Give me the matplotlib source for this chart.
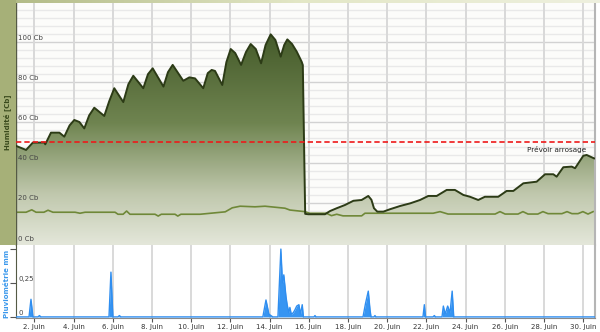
import numpy as np
import matplotlib
matplotlib.use("Agg")
import matplotlib.pyplot as plt
from matplotlib.colors import LinearSegmentedColormap
from matplotlib.transforms import blended_transform_factory
from matplotlib.patches import Rectangle

# ---------------- data (day of June, value) ----------------
hum_t = [1.07, 1.58, 1.92, 2.51, 2.56, 2.85, 3.28, 3.53, 3.80, 4.04, 4.30, 4.55, 4.80, 5.06,
         5.57, 5.82, 6.08, 6.54, 6.80, 7.05, 7.56, 7.80, 8.04, 8.59, 8.82, 9.06, 9.60, 9.91,
         10.20, 10.62, 10.85, 11.05, 11.22, 11.59, 11.80, 12.02, 12.25, 12.55, 12.80, 13.04,
         13.30, 13.57, 13.80, 14.06, 14.30, 14.57, 14.75, 14.91, 15.15, 15.39, 15.64, 15.70,
         15.82, 15.98, 16.83, 17.09, 17.43, 17.85, 18.28, 18.70, 19.04, 19.20, 19.33, 19.50,
         19.81, 20.15, 20.66, 21.17, 21.68, 22.10, 22.53, 23.04, 23.46, 23.89, 24.23, 24.65,
         24.99, 25.67, 26.10, 26.44, 26.95, 27.63, 28.06, 28.48, 28.65, 28.99, 29.42, 29.59,
         30.01, 30.18, 30.56]
hum_v = [48.3, 46.3, 49.9, 50.0, 49.1, 54.9, 54.9, 52.9, 58.5, 61.2, 60.2, 57.0, 63.5, 67.3,
         63.2, 70.5, 77.0, 70.1, 79.0, 83.2, 77.0, 84.0, 86.9, 77.8, 85.0, 88.6, 80.7, 82.4,
         81.9, 77.0, 84.5, 86.1, 85.6, 78.6, 90.0, 96.5, 94.5, 88.6, 95.0, 99.0,
         96.5, 89.4, 98.5, 103.8, 101.0, 92.7, 98.5, 101.3, 99.0, 95.2, 90.2, 88.5,
         14.5, 14.3, 14.3, 15.9, 17.3, 18.9, 21.0, 21.4, 23.4, 21.5, 17.3, 15.6,
         15.6, 16.8, 18.4, 19.7, 21.4, 23.4, 23.4, 26.4, 26.4, 23.9, 23.0, 21.4,
         23.0, 23.0, 25.9, 25.9, 29.7, 30.5, 34.2, 34.2, 33.0, 37.7, 38.0, 37.2,
         43.4, 43.8, 42.1]

soil_t = [1.07, 1.58, 1.87, 2.09, 2.49, 2.70, 2.95, 4.08, 4.33, 4.59, 6.12, 6.27, 6.53, 6.71,
          6.88, 8.16, 8.32, 8.48, 9.18, 9.32, 9.48, 10.46, 11.74, 12.10, 12.50, 13.26, 13.77,
          14.28, 14.79, 15.04, 15.80, 16.05, 16.90, 17.16, 17.43, 17.75, 18.70, 18.87, 22.35,
          22.70, 23.11, 25.51, 25.76, 26.02, 26.68, 26.93, 27.19, 27.69, 27.95, 28.21, 28.92,
          29.18, 29.43, 29.74, 29.99, 30.25, 30.51]
soil_v = [15.3, 15.3, 16.5, 15.3, 15.3, 16.3, 15.3, 15.3, 14.8, 15.3, 15.3, 14.3, 14.3, 15.9,
          14.3, 14.3, 13.4, 14.3, 14.3, 13.4, 14.3, 14.3, 15.5, 17.5, 18.3, 18.0, 18.3,
          17.8, 17.3, 16.4, 15.6, 14.8, 14.8, 13.6, 14.3, 13.5, 13.5, 14.8, 14.8,
          15.6, 14.4, 14.4, 15.6, 14.4, 14.4, 15.6, 14.4, 14.4, 15.6, 14.6, 14.6,
          15.6, 14.6, 14.6, 15.6, 14.4, 15.6]

rain_t = [1.07, 1.73, 1.83, 1.93, 2.19, 2.26, 2.34, 5.81, 5.91, 6.01, 6.27, 6.34, 6.42,
          13.66, 13.82, 13.97, 14.07, 14.17, 14.43, 14.58, 14.66, 14.73, 14.84, 14.90, 14.99,
          15.04, 15.11, 15.21, 15.29, 15.39, 15.50, 15.58, 15.67, 15.73, 16.27, 16.32, 16.37,
          18.77, 18.90, 19.04, 19.13, 19.18, 19.33, 19.38, 19.43, 21.83, 21.90, 21.96,
          22.34, 22.41, 22.47, 22.80, 22.87, 22.96, 23.09, 23.21, 23.32, 23.40, 30.60]
rain_v = [0, 0, 0.13, 0, 0, 0.01, 0, 0, 0.33, 0, 0, 0.01, 0,
          0, 0.125, 0.02, 0.01, 0, 0, 0.5, 0.25, 0.31, 0.15, 0.09, 0.03,
          0.07, 0.02, 0.03, 0.05, 0.08, 0.09, 0.02, 0.09, 0, 0, 0.01, 0,
          0, 0.10, 0.19, 0.05, 0, 0, 0.01, 0, 0, 0.09, 0,
          0, 0.01, 0, 0, 0.08, 0.02, 0.08, 0.03, 0.19, 0, 0]

threshold = 50
threshold_label = "Prévoir arrosage"
hum_ticks = [0, 20, 40, 60, 80, 100]
rain_ticks = [0, 0.25]
rain_tick_labels = ["0", "0,25"]
day_ticks = list(range(2, 31, 2))
day_labels = [f"{d}. Juin" for d in day_ticks]

# ---------------- figure ----------------
W, H = 600, 332
fig = plt.figure(figsize=(W / 100, H / 100), dpi=100, facecolor="white")
plt.rcParams["font.family"] = ["DejaVu Sans"]

x0, x1 = 1.066, 30.607
L, R = 16, 595
top1, bot1, bot2 = 3, 245, 318
ax1 = fig.add_axes([L / W, 1 - bot1 / H, (R - L) / W, (bot1 - top1) / H])
ax2 = fig.add_axes([L / W, 1 - bot2 / H, (R - L) / W, (bot2 - bot1) / H])

# left olive strip and top band
fig.patches.append(Rectangle((0, 1 - bot1 / H), L / W, bot1 / H, transform=fig.transFigure,
                             facecolor="#a6b078", edgecolor="none", zorder=0))
band = np.linspace(0, 1, 256).reshape(1, -1)
band_cmap = LinearSegmentedColormap.from_list("band", ["#b0b984", "#e3e7c6", "#eef0de"])
bax = fig.add_axes([0, 1 - top1 / H, 1, top1 / H])
bax.imshow(band, aspect="auto", cmap=band_cmap, extent=[0, 1, 0, 1])
bax.axis("off")

# ---------------- top panel ----------------
ax1.set_facecolor("#fcfcfa")
ymin1, ymax1 = -1, 119.4
ax1.set_xlim(x0, x1)
ax1.set_ylim(ymin1, ymax1)

for v in np.arange(0, 120, 4):
    if v % 20 == 0:
        ax1.axhline(v, color="#d2d2d2", lw=1.0, zorder=0.5)
    else:
        ax1.axhline(v, color="#e9e9e9", lw=1.0, zorder=0.5)
for d in day_ticks:
    ax1.axvline(d, color="#d9d9d9", lw=1.4, zorder=0.6)
    ax2.axvline(d, color="#d9d9d9", lw=1.4, zorder=0.6)

# gradient fill under humidity
grad_cmap = LinearSegmentedColormap.from_list(
    "g", [(0.0, "#e4e7da"), (25 / 110, "#c0c8ad"), (60 / 110, "#6f8450"), (1.0, "#3f5525")])
poly = ax1.fill_between(hum_t, hum_v, ymin1, facecolor="none", edgecolor="none")
grad = np.linspace(0, 1, 256).reshape(-1, 1)
im = ax1.imshow(grad, extent=[x0, x1, ymin1, 110], origin="lower", aspect="auto",
                cmap=grad_cmap, zorder=1, interpolation="bilinear")
im.set_clip_path(poly.get_paths()[0], transform=ax1.transData)

ax1.plot(soil_t, soil_v, color="#6f8838", lw=1.2, zorder=2)
ax1.plot(hum_t, hum_v, color="#2c3b16", lw=1.4, zorder=3)

ax1.axhline(threshold, color="#ee1a1a", lw=1.2, dashes=(3.2, 1.8), zorder=4)
ax1.text(0.985, threshold - 1.5, threshold_label, transform=blended_transform_factory(ax1.transAxes, ax1.transData),
         ha="right", va="top", fontsize=5.2, color="#222222", zorder=5)

ax1.set_xticks(day_ticks)
ax1.tick_params(axis="x", length=0, labelbottom=False)
ax1.set_yticks(hum_ticks)
ax1.set_yticklabels([])
ax1.tick_params(axis="y", length=4, width=0.8, color="#555555", direction="out")
bt = blended_transform_factory(ax1.transAxes, ax1.transData)
for v in hum_ticks:
    ax1.annotate(f"{v} Cb", xy=(0, v), xycoords=bt, xytext=(1.5, 1.0), textcoords="offset points",
                 ha="left", va="bottom", fontsize=5, color="#444444", zorder=6)

for s in ["top", "bottom"]:
    ax1.spines[s].set_visible(False)
ax1.spines["left"].set_color("#555a45")
ax1.spines["left"].set_linewidth(1.0)
ax1.spines["right"].set_color("#b5b5b5")
ax1.spines["right"].set_linewidth(1.5)

fig.text(7.5 / W, 1 - 122 / H, "Humidité [Cb]", rotation=90, ha="center", va="center",
         fontsize=5, fontweight="bold", color="#3a4a1c")

# ---------------- bottom panel ----------------
ax2.set_facecolor("white")
ax2.set_xlim(x0, x1)
ax2.set_ylim(-0.008, 0.53)
ax2.fill_between(rain_t, rain_v, 0, color="#3795f2", lw=0, zorder=2)
ax2.plot(rain_t, rain_v, color="#2f8ef0", lw=1.0, zorder=3)

ax2.set_yticks([0, 0.25, 0.5])
ax2.set_yticklabels([])
ax2.tick_params(axis="y", length=4, width=0.8, color="#555555", direction="out")
bt2 = blended_transform_factory(ax2.transAxes, ax2.transData)
for v, lab in zip(rain_ticks, rain_tick_labels):
    ax2.annotate(lab, xy=(0, v), xycoords=bt2, xytext=(1.5, 1.0), textcoords="offset points",
                 ha="left", va="bottom", fontsize=5, color="#444444", zorder=6)

ax2.set_xticks(day_ticks)
ax2.set_xticklabels(day_labels, fontsize=5, color="#333333")
ax2.tick_params(axis="x", length=3, width=0.8, color="#555555", pad=1.5)
ax2.spines["top"].set_visible(False)
ax2.spines["left"].set_color("#555a45")
ax2.spines["bottom"].set_color("#8a8a8a")
ax2.spines["right"].set_color("#b5b5b5")
ax2.spines["right"].set_linewidth(1.5)

fig.text(7.5 / W, 1 - 284 / H, "Pluviométrie mm", rotation=90, ha="center", va="center",
         fontsize=5, fontweight="bold", color="#3a98ec")

fig.savefig("out.png", dpi=100, facecolor="white")
